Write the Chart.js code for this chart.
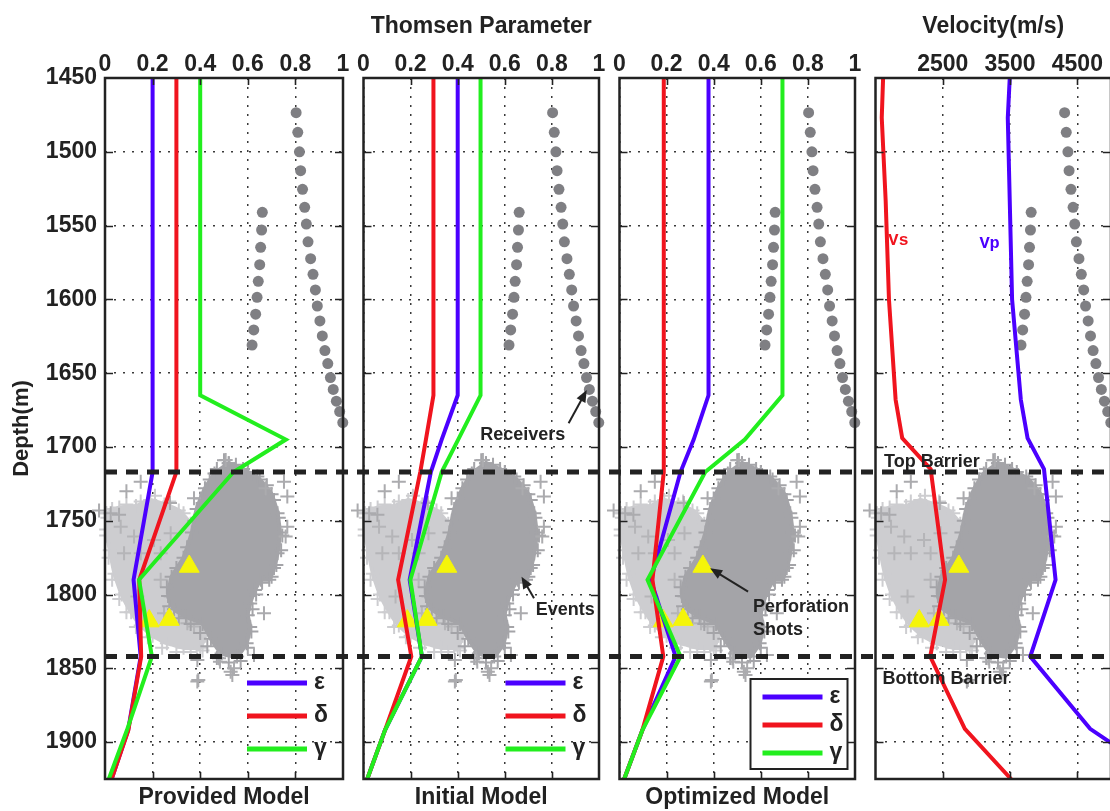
<!DOCTYPE html>
<html>
<head>
<meta charset="utf-8">
<title>Thomsen parameter and velocity models</title>
<script src="https://cdn.jsdelivr.net/npm/chart.js@4.4.1/dist/chart.umd.min.js"></script>
<style>
  html, body { margin: 0; padding: 0; background: #fff; overflow: hidden; width: 1110px; height: 811px; }
  canvas { position: absolute; top: 0; }
</style>
</head>
<body>
<canvas id="provided" width="357" height="811" style="left:0px"></canvas>
<canvas id="initial" width="262" height="811" style="left:351px"></canvas>
<canvas id="optimized" width="262" height="811" style="left:607px"></canvas>
<canvas id="velocity" width="262" height="811" style="left:863px"></canvas>
<canvas id="barriers" width="1110" height="811" style="left:0px"></canvas>
<script>
// ---- Layered anisotropy models: node depths (m) and parameter values ----
const modelDepth   = [1450, 1665, 1695, 1717, 1790, 1842, 1892, 1925];

const providedEps  = [0.20, 0.20, 0.20, 0.20, 0.120, 0.150, 0.097, 0.028];
const providedDel  = [0.30, 0.30, 0.30, 0.30, 0.144, 0.152, 0.098, 0.028];
const providedGam  = [0.40, 0.40, 0.76, 0.54, 0.143, 0.197, 0.092, 0.016];

const initialEps   = [0.40, 0.40, 0.332, 0.286, 0.196, 0.248, 0.091, 0.016];
const initialDel   = [0.297, 0.297, 0.265, 0.241, 0.147, 0.203, 0.091, 0.016];
const initialGam   = [0.497, 0.497, 0.402, 0.332, 0.199, 0.248, 0.091, 0.016];

const optimizedEps = [0.378, 0.378, 0.315, 0.259, 0.133, 0.238, 0.097, 0.020];
const optimizedDel = [0.188, 0.188, 0.188, 0.188, 0.140, 0.186, 0.097, 0.020];
const optimizedGam = [0.692, 0.692, 0.532, 0.364, 0.119, 0.259, 0.097, 0.020];

// ---- Velocity profiles (m/s) ----
const velDepth = [1450, 1477, 1533, 1600, 1668, 1694, 1715, 1790, 1842, 1891, 1925];
const vsValues = [1613, 1593, 1651, 1700, 1799, 1897, 2320, 2534, 2313, 2828, 3515];
const vpValues = [3495, 3466, 3495, 3530, 3660, 3760, 4004, 4176, 3800, 4690, 5800];
const velTicks = [2500, 3500, 4500];

// ---- Barrier depths (m) ----
const barrierDepths = [1717, 1842];

// ---- Receivers, events and perforation shots (position across a panel, 0-1) ----
const recvAPos   = [0.803, 0.810, 0.817, 0.822, 0.830, 0.839, 0.846, 0.853, 0.864, 0.874, 0.884,
                    0.892, 0.903, 0.913, 0.924, 0.936, 0.947, 0.959, 0.972, 0.986, 0.999];
const recvADepth = [1473.5, 1486.8, 1500, 1512.8, 1525.4, 1537.6, 1549, 1561, 1572.4, 1583, 1593.6,
                    1604.5, 1614.6, 1624.8, 1634.7, 1643.5, 1653, 1661, 1669, 1676, 1683.5];
const recvBPos   = [0.661, 0.658, 0.654, 0.650, 0.644, 0.639, 0.633, 0.625, 0.618];
const recvBDepth = [1541, 1553, 1564.7, 1576.5, 1587.8, 1598.6, 1610, 1620.7, 1631];

const shotPos   = [0.354, 0.270, 0.186];
const shotDepth = [1781, 1817, 1818];

// dense cloud of the main event cluster (outline)
const denseEvPos   = [0.52, 0.58, 0.65, 0.70, 0.725, 0.735, 0.725, 0.71, 0.69, 0.655, 0.63, 0.61, 0.60, 0.61,
                      0.595, 0.555, 0.49, 0.445, 0.41, 0.34, 0.29, 0.265, 0.28, 0.33, 0.365, 0.385, 0.42, 0.46];
const denseEvDepth = [1711, 1715, 1722, 1732, 1745, 1758, 1772, 1782, 1790, 1790, 1797, 1806, 1814, 1822,
                      1833, 1842, 1840, 1830, 1820, 1815, 1810, 1801, 1788, 1775, 1758, 1742, 1728, 1718];
// events along the rim of the main cluster
const denseRimPos   = [0.50, 0.55, 0.47, 0.60, 0.64, 0.68, 0.71, 0.73, 0.745, 0.74, 0.72, 0.70, 0.66, 0.635,
                       0.62, 0.615, 0.60, 0.57, 0.52, 0.47, 0.43, 0.40, 0.36, 0.31, 0.27, 0.26, 0.30, 0.345,
                       0.375, 0.40, 0.44];
const denseRimDepth = [1709, 1712, 1715, 1717, 1720, 1726, 1736, 1748, 1760, 1770, 1780, 1788, 1792, 1800,
                       1810, 1825, 1836, 1845, 1846, 1843, 1835, 1826, 1820, 1816, 1808, 1795, 1782, 1768,
                       1750, 1735, 1722];
// shallow-side lighter cluster (outline)
const lightEvPos   = [0.005, 0.06, 0.13, 0.19, 0.25, 0.31, 0.36, 0.37, 0.35, 0.38, 0.42, 0.40, 0.33, 0.26,
                      0.20, 0.15, 0.11, 0.07, 0.04, 0.02, 0.005];
const lightEvDepth = [1745, 1741, 1740, 1736, 1739, 1743, 1752, 1770, 1790, 1810, 1828, 1836, 1836, 1833,
                      1828, 1821, 1812, 1800, 1786, 1770, 1756];
// events along the rim of the lighter cluster
const lightRimPos   = [0.01, 0.03, 0.09, 0.15, 0.21, 0.27, 0.33, 0.005, 0.015, 0.03, 0.06, 0.09, 0.13,
                       0.18, 0.24, 0.30, 0.36, 0.41];
const lightRimDepth = [1748, 1742, 1739, 1737, 1733, 1737, 1745, 1760, 1775, 1790, 1803, 1812, 1822,
                       1829, 1836, 1839, 1839, 1838];
// individual events inside the lighter cluster
const midEvPos   = [0.066, 0.122, 0.150, 0.234, 0.080, 0.234, 0.276, 0.318, 0.346, 0.374, 0.248, 0.136, 0.206, 0.276];
const midEvDepth = [1754, 1760.7, 1772, 1772, 1772, 1790, 1801.4, 1790, 1819.5, 1821.7, 1812.7, 1801.4, 1763, 1758.5];
// scattered events around the clusters
const strayEvPos   = [0.507, 0.150, 0.752, 0.675, 0.766, 0.374, 0.024, 0.059, 0.759, 0.766, 0.668, 0.479,
                      0.626, 0.542, 0.388, 0.535, 0.388, 0.528, 0.392, 0.483, -0.025, 0.273, 0.090];
const strayEvDepth = [1708.8, 1723.5, 1723.5, 1728, 1733.6, 1734.8, 1745, 1746, 1760.7, 1754, 1812.7, 1843.2,
                      1840.9, 1850, 1844.3, 1854.5, 1859, 1852.3, 1857.9, 1845.5, 1743, 1738, 1730];

// ---- Styling ----
const FONT = "'Liberation Sans', Arial, Helvetica, sans-serif";
const INK = '#222222';
const EPS_C = '#4b00ff', DEL_C = '#f0141e', GAM_C = '#22ee1e';
const LIGHT = '#cdcdd0', MID = '#b5b5b8', DARK = '#a4a4a8', STRAY = '#ababae';
const REC_C = '#7f7f83', SHOT_C = '#f5f50a';

Chart.defaults.font.family = FONT;
Chart.defaults.color = INK;
Chart.defaults.animation = false;
Chart.defaults.events = [];

const pairs = (xs, ys) => xs.map((x, i) => ({ x, y: ys[i] }));
const closed = (pts) => pts.concat([pts[0]]);

function modelLine(label, color, values, depths, order) {
  return {
    label, inLegend: true, data: pairs(values, depths), showLine: true,
    borderColor: color, backgroundColor: color, borderWidth: 4, pointRadius: 0, order
  };
}

function crosses(xs, ys, color, xAxisID, order) {
  return {
    data: pairs(xs, ys), xAxisID, order, clip: false,
    pointStyle: 'cross', pointRadius: 7, pointBorderWidth: 2,
    pointBorderColor: color, pointBackgroundColor: color
  };
}

function cloud(xs, ys, color, xAxisID, order) {
  return {
    data: closed(pairs(xs, ys)), xAxisID, order, clip: false,
    showLine: true, fill: 'shape', tension: 0.12,
    backgroundColor: color, borderColor: color, borderWidth: 4,
    pointStyle: 'cross', pointRadius: 7, pointBorderWidth: 2,
    pointBorderColor: color, pointBackgroundColor: color
  };
}

// microseismic events, receivers and perforation shots
function observationLayers(xAxisID) {
  return [
    cloud(lightEvPos, lightEvDepth, LIGHT, xAxisID, 15),
    crosses(lightRimPos, lightRimDepth, LIGHT, xAxisID, 14),
    crosses(midEvPos, midEvDepth, MID, xAxisID, 13),
    cloud(denseEvPos, denseEvDepth, DARK, xAxisID, 12),
    crosses(denseRimPos, denseRimDepth, DARK, xAxisID, 11),
    crosses(strayEvPos, strayEvDepth, STRAY, xAxisID, 10),
    { data: pairs(recvAPos, recvADepth), xAxisID, order: 7, clip: false, pointStyle: 'circle',
      pointRadius: 5.5, pointBackgroundColor: REC_C, pointBorderColor: REC_C, pointBorderWidth: 0 },
    { data: pairs(recvBPos, recvBDepth), xAxisID, order: 7, clip: false, pointStyle: 'circle',
      pointRadius: 5.5, pointBackgroundColor: REC_C, pointBorderColor: REC_C, pointBorderWidth: 0 },
    { data: pairs(shotPos, shotDepth), xAxisID, order: 5, clip: false, pointStyle: 'triangle',
      pointRadius: 11.5, pointBackgroundColor: SHOT_C, pointBorderColor: SHOT_C, pointBorderWidth: 1 }
  ];
}

// frame round the plot area with inward tick marks on all four sides
function framePlugin() {
  return {
    id: 'frame',
    afterDatasetsDraw(chart) {
      const { ctx, chartArea: a } = chart;
      const xs = chart.scales.x, ys = chart.scales.y;
      ctx.save();
      ctx.strokeStyle = INK;
      ctx.lineWidth = 1.6;
      ctx.beginPath();
      xs.ticks.forEach(t => {
        if (t.value <= xs.min || t.value >= xs.max) return;
        const p = Math.round(xs.getPixelForValue(t.value)) + 0.5;
        ctx.moveTo(p, a.top); ctx.lineTo(p, a.top + 7);
        ctx.moveTo(p, a.bottom); ctx.lineTo(p, a.bottom - 7);
      });
      ys.ticks.forEach(t => {
        if (t.value <= ys.min || t.value >= ys.max) return;
        const p = Math.round(ys.getPixelForValue(t.value)) + 0.5;
        ctx.moveTo(a.left, p); ctx.lineTo(a.left + 8, p);
        ctx.moveTo(a.right, p); ctx.lineTo(a.right - 8, p);
      });
      ctx.stroke();
      ctx.lineWidth = 2.5;
      ctx.strokeRect(a.left, a.top, a.right - a.left, a.bottom - a.top);
      ctx.restore();
    }
  };
}

// key for the three anisotropy curves, placed inside the plot area
function keyPlugin(cfg) {
  return {
    id: 'modelKey',
    afterDraw(chart) {
      const { ctx, chartArea: a } = chart;
      const items = chart.data.datasets.filter(d => d.inLegend);
      ctx.save();
      if (cfg.box) {
        const [bx, by, bw, bh] = cfg.box;
        ctx.fillStyle = '#fff';
        ctx.fillRect(a.left + bx, a.top + by, bw, bh);
        ctx.strokeStyle = INK; ctx.lineWidth = 2;
        ctx.strokeRect(a.left + bx, a.top + by, bw, bh);
      }
      items.forEach((d, i) => {
        const y = a.top + cfg.y + i * cfg.gap;
        ctx.strokeStyle = d.borderColor; ctx.lineWidth = 5;
        ctx.beginPath();
        ctx.moveTo(a.left + cfg.x, y); ctx.lineTo(a.left + cfg.x + 60, y);
        ctx.stroke();
        ctx.fillStyle = INK;
        ctx.font = `bold 23px ${FONT}`;
        ctx.textAlign = 'left'; ctx.textBaseline = 'middle';
        ctx.fillText(d.label, a.left + cfg.x + 67, y);
      });
      ctx.restore();
    }
  };
}

function drawArrow(ctx, x0, y0, x1, y1) {
  const ang = Math.atan2(y1 - y0, x1 - x0), L = 12, W = 5;
  ctx.beginPath();
  ctx.moveTo(x0, y0);
  ctx.lineTo(x1 - Math.cos(ang) * L * 0.8, y1 - Math.sin(ang) * L * 0.8);
  ctx.stroke();
  ctx.beginPath();
  ctx.moveTo(x1, y1);
  ctx.lineTo(x1 - Math.cos(ang) * L + Math.sin(ang) * W, y1 - Math.sin(ang) * L - Math.cos(ang) * W);
  ctx.lineTo(x1 - Math.cos(ang) * L - Math.sin(ang) * W, y1 - Math.sin(ang) * L + Math.cos(ang) * W);
  ctx.closePath();
  ctx.fill();
}

// text labels and pointer arrows, placed in data units
function notesPlugin(items) {
  return {
    id: 'notes',
    afterDraw(chart) {
      const { ctx } = chart;
      const xs = chart.scales.x, ys = chart.scales.y;
      ctx.save();
      ctx.strokeStyle = INK; ctx.fillStyle = INK; ctx.lineWidth = 2;
      items.forEach(it => {
        if (it.text) {
          ctx.font = it.font || `bold 18px ${FONT}`;
          ctx.fillStyle = it.color || INK;
          ctx.textAlign = 'left'; ctx.textBaseline = 'middle';
          ctx.fillText(it.text, xs.getPixelForValue(it.x), ys.getPixelForValue(it.y));
        } else {
          ctx.fillStyle = INK;
          drawArrow(ctx, xs.getPixelForValue(it.from[0]), ys.getPixelForValue(it.from[1]),
                         xs.getPixelForValue(it.to[0]), ys.getPixelForValue(it.to[1]));
        }
      });
      ctx.restore();
    }
  };
}

const gridStyle = { color: '#3a3a3a', lineWidth: 1.5, drawTicks: false };
const gridBorder = { display: false, dash: [2, 7] };
const tickFont = { size: 23, weight: 'bold' };
const titleFont = { size: 23, weight: 'bold' };

function panelScales(opt) {
  const scales = {
    x: {
      type: 'linear', position: 'top', min: opt.xMin, max: opt.xMax,
      grid: gridStyle, border: gridBorder,
      ticks: { stepSize: opt.step, font: tickFont, padding: 0, maxRotation: 0, autoSkip: false,
               callback: v => String(v) },
      title: { display: !!opt.topTitle, text: opt.topTitle || '', font: titleFont, padding: { top: 13, bottom: 0 } },
      afterFit: s => { s.height = 78; }
    },
    xb: {
      type: 'linear', position: 'bottom', min: 0, max: 1,
      grid: { display: false }, border: { display: false }, ticks: { display: false },
      title: { display: true, text: opt.bottomTitle, font: titleFont, padding: { top: 0, bottom: 0 } },
      afterFit: s => { s.height = 32; }
    },
    y: {
      type: 'linear', position: 'left', reverse: true, min: 1450, max: 1925,
      grid: gridStyle, border: gridBorder,
      ticks: { display: !!opt.yLabels, stepSize: 50, includeBounds: false, font: tickFont, padding: 8,
               callback: v => String(v) },
      title: { display: !!opt.yLabels, text: 'Depth(m)', font: { size: 22, weight: 'bold' }, padding: { top: 9, bottom: 0 } },
      afterFit: s => { s.width = opt.yWidth; }
    }
  };
  if (opt.ticks) scales.x.afterBuildTicks = s => { s.ticks = opt.ticks.map(v => ({ value: v })); };
  if (opt.normAxis) scales.xn = { type: 'linear', min: 0, max: 1, display: false };
  return scales;
}

function makePanel(id, opt, datasets, plugins) {
  return new Chart(document.getElementById(id), {
    type: 'scatter',
    data: { datasets },
    options: {
      responsive: false, devicePixelRatio: 1,
      layout: { padding: { left: 0, right: 14, top: 0, bottom: 0 } },
      plugins: { legend: { display: false }, tooltip: { enabled: false } },
      scales: panelScales(opt)
    },
    plugins: [framePlugin()].concat(plugins)
  });
}

// Provided model
makePanel('provided',
  { xMin: 0, xMax: 1, step: 0.2, bottomTitle: 'Provided Model', yLabels: true, yWidth: 105 },
  [modelLine('ε', EPS_C, providedEps, modelDepth, 3),
   modelLine('δ', DEL_C, providedDel, modelDepth, 2),
   modelLine('γ', GAM_C, providedGam, modelDepth, 1)].concat(observationLayers('x')),
  [keyPlugin({ x: 142, y: 605, gap: 33 })]);

// Initial model
makePanel('initial',
  { xMin: 0, xMax: 1, step: 0.2, bottomTitle: 'Initial Model', topTitle: 'Thomsen Parameter', yWidth: 10 },
  [modelLine('ε', EPS_C, initialEps, modelDepth, 3),
   modelLine('δ', DEL_C, initialDel, modelDepth, 2),
   modelLine('γ', GAM_C, initialGam, modelDepth, 1)].concat(observationLayers('x')),
  [keyPlugin({ x: 142, y: 605, gap: 33 }),
   notesPlugin([
     { text: 'Receivers', x: 0.496, y: 1692 },
     { from: [0.871, 1684], to: [0.948, 1661.4] },
     { text: 'Events', x: 0.731, y: 1810.4 },
     { from: [0.724, 1802.5], to: [0.671, 1787.9] }
   ])]);

// Optimized model
makePanel('optimized',
  { xMin: 0, xMax: 1, step: 0.2, bottomTitle: 'Optimized Model', yWidth: 10 },
  [modelLine('ε', EPS_C, optimizedEps, modelDepth, 3),
   modelLine('δ', DEL_C, optimizedDel, modelDepth, 2),
   modelLine('γ', GAM_C, optimizedGam, modelDepth, 1)].concat(observationLayers('x')),
  [keyPlugin({ x: 143, y: 619, gap: 28, box: [131, 601, 97, 90] }),
   notesPlugin([
     { text: 'Perforation', x: 0.567, y: 1808.2 },
     { text: 'Shots', x: 0.567, y: 1824 },
     { from: [0.546, 1798], to: [0.385, 1782.2] }
   ])]);

// Velocity profiles
makePanel('velocity',
  { xMin: 1500, xMax: 5000, ticks: velTicks, bottomTitle: '', topTitle: 'Velocity(m/s)', yWidth: 10, normAxis: true },
  [{ label: 'Vs', data: pairs(vsValues, velDepth), showLine: true, borderColor: DEL_C, borderWidth: 4, pointRadius: 0, order: 2 },
   { label: 'Vp', data: pairs(vpValues, velDepth), showLine: true, borderColor: EPS_C, borderWidth: 4, pointRadius: 0, order: 1 }
  ].concat(observationLayers('xn')),
  [notesPlugin([
     { text: 'Top Barrier', x: 1628, y: 1710 },
     { text: 'Bottom Barrier', x: 1603, y: 1857.2 },
     { text: 'Vs', x: 1691, y: 1560, color: DEL_C, font: `bold 17px 'Liberation Mono', 'DejaVu Sans Mono', monospace` },
     { text: 'Vp', x: 3044, y: 1562, color: EPS_C, font: `bold 17px 'Liberation Mono', 'DejaVu Sans Mono', monospace` }
   ])]);

// Barrier depths, drawn across all four panels
new Chart(document.getElementById('barriers'), {
  type: 'scatter',
  data: {
    datasets: barrierDepths.map(d => ({
      data: [{ x: 0, y: d }, { x: 1, y: d }], showLine: true, pointRadius: 0,
      borderColor: INK, borderWidth: 5, borderDash: [12, 9]
    }))
  },
  options: {
    responsive: false, devicePixelRatio: 1,
    layout: { padding: { left: 105, right: 0, top: 78, bottom: 32 } },
    plugins: { legend: { display: false }, tooltip: { enabled: false } },
    scales: {
      x: { type: 'linear', min: 0, max: 1, display: false },
      y: { type: 'linear', min: 1450, max: 1925, reverse: true, display: false }
    }
  }
});
</script>
</body>
</html>
